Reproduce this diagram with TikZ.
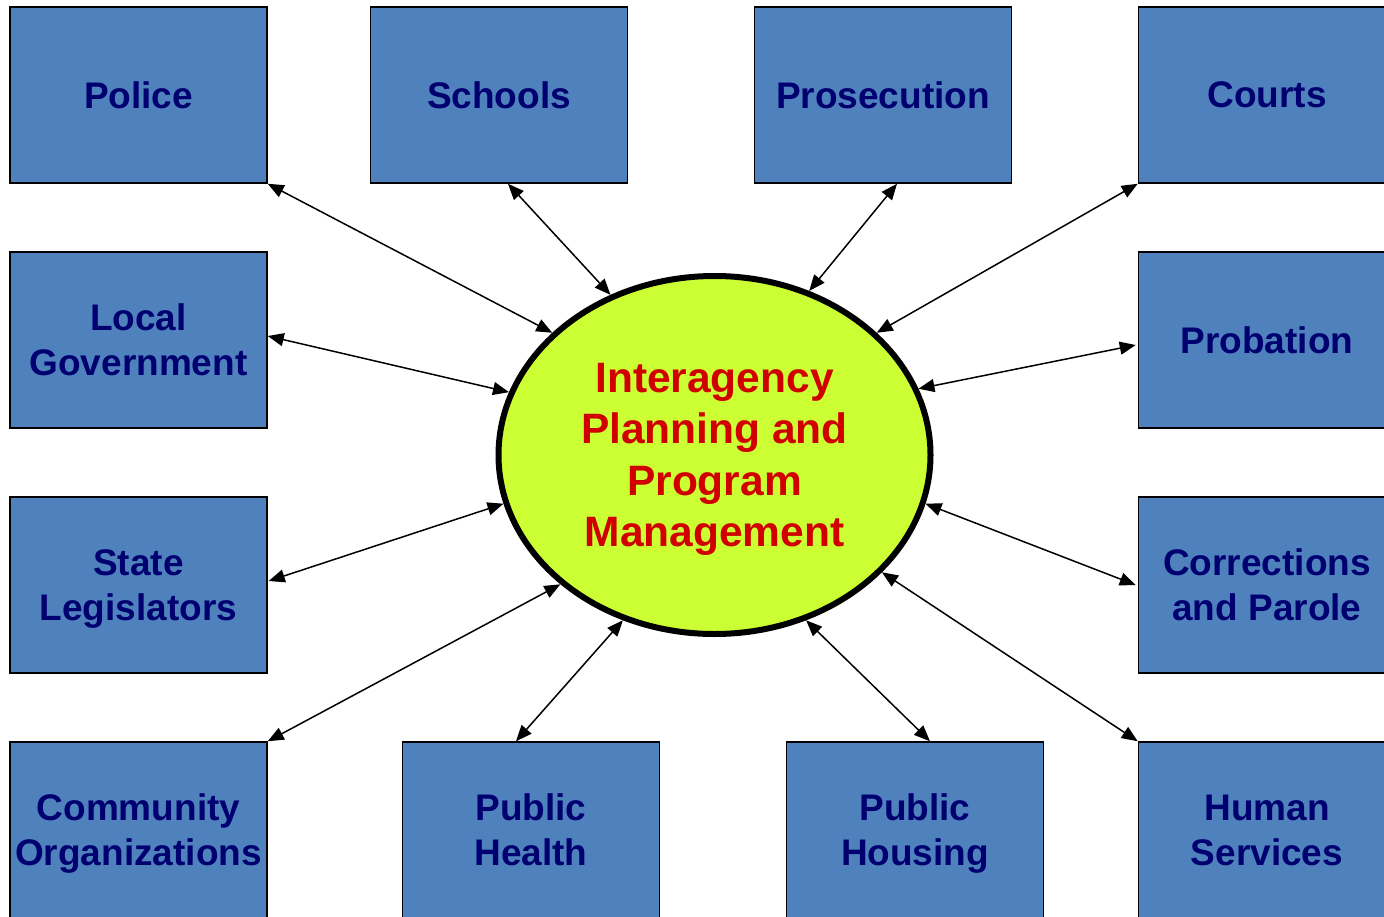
\documentclass[tikz,border=0pt]{standalone}
\usepackage{fontspec}
\setmainfont{Liberation Sans}
\usepackage{tikz}
\usetikzlibrary{arrows.meta}
\usetikzlibrary{calc,positioning,shapes.geometric}

\definecolor{agencyblue}{HTML}{4F81BD}
\definecolor{agencynavy}{HTML}{000070}
\definecolor{hubgreen}{HTML}{CCFF33}
\definecolor{hubred}{HTML}{D00000}

\begin{document}
\begin{tikzpicture}[x=1pt, y=-1pt, >={Triangle[length=16pt,width=13pt]},
    agency/.style = {draw, line width=1.5pt, fill=agencyblue, minimum width=257pt, minimum height=176pt,
                     align=center, text=agencynavy, text depth=0pt, font=\fontsize{37}{45}\selectfont\bfseries},
    hub/.style = {ellipse, draw, line width=6pt, fill=hubgreen, minimum width=432pt, minimum height=358pt,
                  align=center, text=hubred, text depth=-5pt, font=\fontsize{42.5}{51.5}\selectfont\bfseries},
    link/.style = {<->, line width=1.5pt}]

    \useasboundingbox (0,0) rectangle (1384,916);
    \clip (0,0) rectangle (1384,916);

    % the twelve agencies
    \node[agency] (police)      at (138.5,95)  {Police};
    \node[agency] (schools)     at (499,95)    {Schools};
    \node[agency] (prosecution) at (883,95)    {Prosecution};
    \node[agency] (courts)      at (1267,95)   {Courts};

    \node[agency] (localgov)    at (138.5,340) {Local\\Government};
    \node[agency] (probation)   at (1267,340)  {Probation};

    \node[agency] (statelegis)  at (138.5,585) {State\\Legislators};
    \node[agency] (corrections) at (1267,585)  {Corrections\\and Parole};

    \node[agency] (community)   at (138.5,830) {Community\\Organizations};
    \node[agency] (pubhealth)   at (531,830)   {Public\\Health};
    \node[agency] (pubhousing)  at (915,830)   {Public\\Housing};
    \node[agency] (humanserv)   at (1267,830)  {Human\\Services};

    % hub
    \node[hub] (hub) at (714.5,455) {Interagency\\Planning and\\Program\\Management};

    % links
    \draw[link] (police.south east) -- (hub.143);
    \draw[link] ($(schools.south)+(9,0)$) -- (hub.123);
    \draw[link] ($(prosecution.south)+(14,0)$) -- (hub.60);
    \draw[link] (courts.south west) -- (hub.37);

    \draw[link] ($(localgov.east)+(0,-4)$) -- (hub.163);
    \draw[link] ($(probation.west)+(-2,5)$) -- (hub.18);

    \draw[link] ($(statelegis.east)+(1,-4)$) -- (hub.193.5);
    \draw[link] ($(corrections.west)+(-2,0)$) -- (hub.-13.5);

    \draw[link] (community.north east) -- (hub.220);
    \draw[link] ($(pubhealth.north)+(-15,0)$) -- (hub.241);
    \draw[link] ($(pubhousing.north)+(15,0)$) -- (hub.-61);
    \draw[link] (humanserv.north west) -- (hub.-35.5);

\end{tikzpicture}
\end{document}
